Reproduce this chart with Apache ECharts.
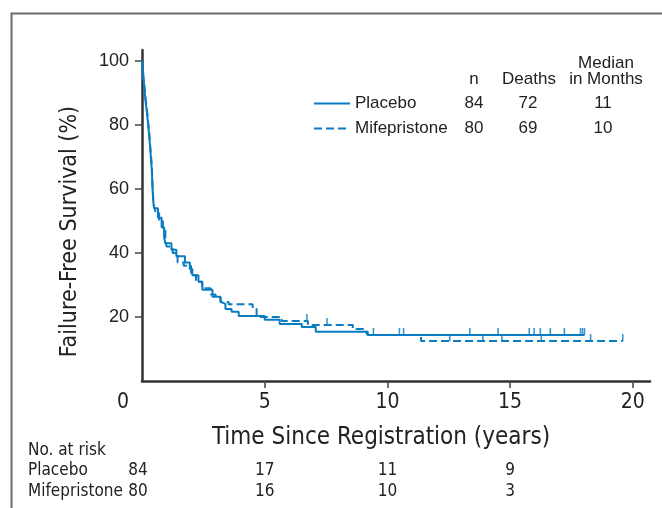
<!DOCTYPE html>
<html>
<head>
<meta charset="utf-8">
<script src="https://cdn.jsdelivr.net/npm/echarts@6/dist/echarts.min.js"></script>
<style>
html,body{margin:0;padding:0;background:#fff;}
#main{width:662px;height:508px;}
</style>
</head>
<body>
<div id="main"></div>
<script>
// Kaplan-Meier steps [years, % failure-free]
var placebo = [[0,100],[0.05,96],[0.1,91],[0.15,87],[0.2,84],[0.25,80],[0.3,76],[0.35,71],[0.4,66],[0.43,60],[0.46,56],
  [0.5,54],[0.65,51],[0.8,48],[0.9,45],[0.95,43],[1.2,41],[1.4,39],[1.75,37],[1.95,35],[2.05,33],[2.3,31],
  [2.46,28.5],[2.87,26.3],[3.2,24.7],[3.28,24.1],[3.4,22.5],[3.65,21.6],[3.94,20.3],[5.0,19.1],[5.61,17.8],
  [6.51,16.9],[7.08,15.4],[9.2,14.4],[18.03,14.4]];
var mife = [[0,100],[0.05,95],[0.1,92],[0.15,88],[0.2,85],[0.25,81],[0.3,77],[0.35,72],[0.4,67],[0.43,61],[0.47,55],
  [0.55,53],[0.7,50],[0.85,47],[0.95,44],[1.0,42],[1.25,40],[1.45,37],[1.7,36],[2.0,33],[2.2,31],[2.45,29],
  [2.8,27],[3.0,26],[3.2,24.7],[3.53,24.0],[4.51,22.5],[4.67,20.0],[5.69,18.75],[6.76,17.5],[8.59,16.25],
  [9.12,15.3],[9.2,14.4],[11.37,12.5],[19.59,12.5]];
var placeboCensored = [9.43,10.49,10.66,13.36,14.51,15.78,15.98,16.23,16.64,17.21,17.87,17.95,18.03];
var mifeCensored = [6.72,7.54,12.54,13.89,14.67,16.27,18.28,19.59];

var groups = ['Placebo','Mifepristone'];
var nPatients = [84,80];
var deaths = [72,69];
var medianMonths = [11,10];

var riskTimes = [0,5,10,15];
var riskPlacebo = [84,17,11,9];
var riskMife = [80,16,10,3];

var xTicks = [0,5,10,15,20];
var yTicks = [20,40,60,80,100];

var blue = '#0a7cc1';
var narrow = "'Liberation Sans Narrow','DejaVu Sans Condensed',sans-serif";
var regular = "'Liberation Sans',Arial,sans-serif";

function survAt(curve, t) {
  var s = curve[0][1];
  for (var i = 0; i < curve.length; i++) {
    if (curve[i][0] <= t) s = curve[i][1];
  }
  return s;
}
function censorPoints(curve, times) {
  return times.map(function (t) { return [t, survAt(curve, t)]; });
}

var myChart = echarts.init(document.getElementById('main'));
var option = {
  animation: false,
  grid: { left: 142, right: 12, top: 50, bottom: 127 },
  legend: {
    data: groups,
    orient: 'vertical',
    left: 313,
    top: 95,
    itemWidth: 36,
    itemHeight: 14,
    itemGap: 8,
    padding: 0,
    selectedMode: false,
    itemStyle: { opacity: 0 },
    formatter: function (name) {
      var i = groups.indexOf(name);
      return '{nm|' + name + '}{n|' + nPatients[i] + '}{d|' + deaths[i] + '}{m|' + medianMonths[i] + '}';
    },
    textStyle: {
      fontFamily: regular, fontSize: 17, color: '#222',
      rich: {
        nm: { width: 101, fontFamily: regular, fontSize: 17, color: '#222' },
        n: { width: 36, align: 'center', fontFamily: regular, fontSize: 17, color: '#222' },
        d: { width: 72, align: 'center', fontFamily: regular, fontSize: 17, color: '#222' },
        m: { width: 78, align: 'center', fontFamily: regular, fontSize: 17, color: '#222' }
      }
    }
  },
  xAxis: {
    type: 'value',
    min: 0,
    max: 20.7,
    interval: 5,
    name: 'Time Since Registration (years)',
    nameLocation: 'middle',
    nameGap: 45,
    nameTextStyle: { fontFamily: narrow, fontSize: 24, color: '#222', verticalAlign: 'top', padding: [0, 30, 0, 0] },
    splitLine: { show: false },
    axisLine: { lineStyle: { color: '#333', width: 2.5 } },
    axisTick: { customValues: xTicks.slice(1), length: 7, lineStyle: { color: '#444', width: 1.5 } },
    axisLabel: {
      customValues: xTicks,
      margin: 11,
      fontFamily: narrow, fontSize: 21, color: '#222',
      formatter: function (v) { return v === 0 ? '{z|0}' : String(v); },
      rich: { z: { fontFamily: narrow, fontSize: 21, color: '#222', padding: [0, 38, 0, 0] } }
    }
  },
  yAxis: {
    type: 'value',
    min: 0,
    max: 103.4,
    interval: 20,
    name: 'Failure-Free Survival (%)',
    nameLocation: 'middle',
    nameGap: 60,
    nameTextStyle: { fontFamily: narrow, fontSize: 23, color: '#222', padding: [0, 32, 0, 0] },
    splitLine: { show: false },
    axisLine: { lineStyle: { color: '#333', width: 2.5 } },
    axisTick: { customValues: yTicks, length: 7, lineStyle: { color: '#444', width: 1.5 } },
    axisLabel: { customValues: yTicks, margin: 13, fontFamily: regular, fontSize: 18, color: '#222' }
  },
  series: [
    {
      name: 'Mifepristone', type: 'line', step: 'end', symbol: 'none',
      data: mife, color: blue,
      lineStyle: { color: blue, width: 2, type: [8, 4] }, z: 3
    },
    {
      name: 'Placebo', type: 'line', step: 'end', symbol: 'none',
      data: placebo, color: blue,
      lineStyle: { color: blue, width: 2 }, z: 4
    },
    {
      name: 'mifeCens', type: 'scatter', symbol: 'rect', symbolSize: [1.6, 7], symbolOffset: [0, -3.5],
      itemStyle: { color: blue }, data: censorPoints(mife, mifeCensored), z: 3
    },
    {
      name: 'placeboCens', type: 'scatter', symbol: 'rect', symbolSize: [1.6, 7], symbolOffset: [0, -3.5],
      itemStyle: { color: blue }, data: censorPoints(placebo, placeboCensored), z: 4
    }
  ]
};
myChart.setOption(option);

// header of the legend table, frame and number-at-risk table
var headStyle = { fontFamily: regular, fontSize: 17, fill: '#222', textAlign: 'center', textVerticalAlign: 'middle' };
var graphics = [
  { type: 'rect', shape: { x: 11.5, y: 13.5, width: 700, height: 600 }, style: { fill: 'none', stroke: '#6b6b6b', lineWidth: 2 }, silent: true },
  { type: 'text', x: 474, y: 79, style: Object.assign({ text: 'n' }, headStyle) },
  { type: 'text', x: 529, y: 79, style: Object.assign({ text: 'Deaths' }, headStyle) },
  { type: 'text', x: 606, y: 63, style: Object.assign({ text: 'Median' }, headStyle) },
  { type: 'text', x: 606, y: 79, style: Object.assign({ text: 'in Months' }, headStyle) }
];
var riskStyle = { fontFamily: narrow, fontSize: 17, fill: '#222', textVerticalAlign: 'middle' };
graphics.push({ type: 'text', x: 28, y: 451, style: Object.assign({ text: 'No. at risk' }, riskStyle) });
[riskPlacebo, riskMife].forEach(function (row, r) {
  var y = 471 + r * 21;
  graphics.push({ type: 'text', x: 28, y: y, style: Object.assign({ text: groups[r] }, riskStyle) });
  row.forEach(function (v, i) {
    var x = myChart.convertToPixel({ xAxisIndex: 0 }, riskTimes[i]);
    if (i === 0) x -= 4;
    graphics.push({ type: 'text', x: x, y: y, style: Object.assign({ text: String(v), textAlign: 'center' }, riskStyle) });
  });
});
myChart.setOption({ graphic: graphics });

window.onresize = function () {
  myChart.resize();
};
</script>
</body>
</html>
